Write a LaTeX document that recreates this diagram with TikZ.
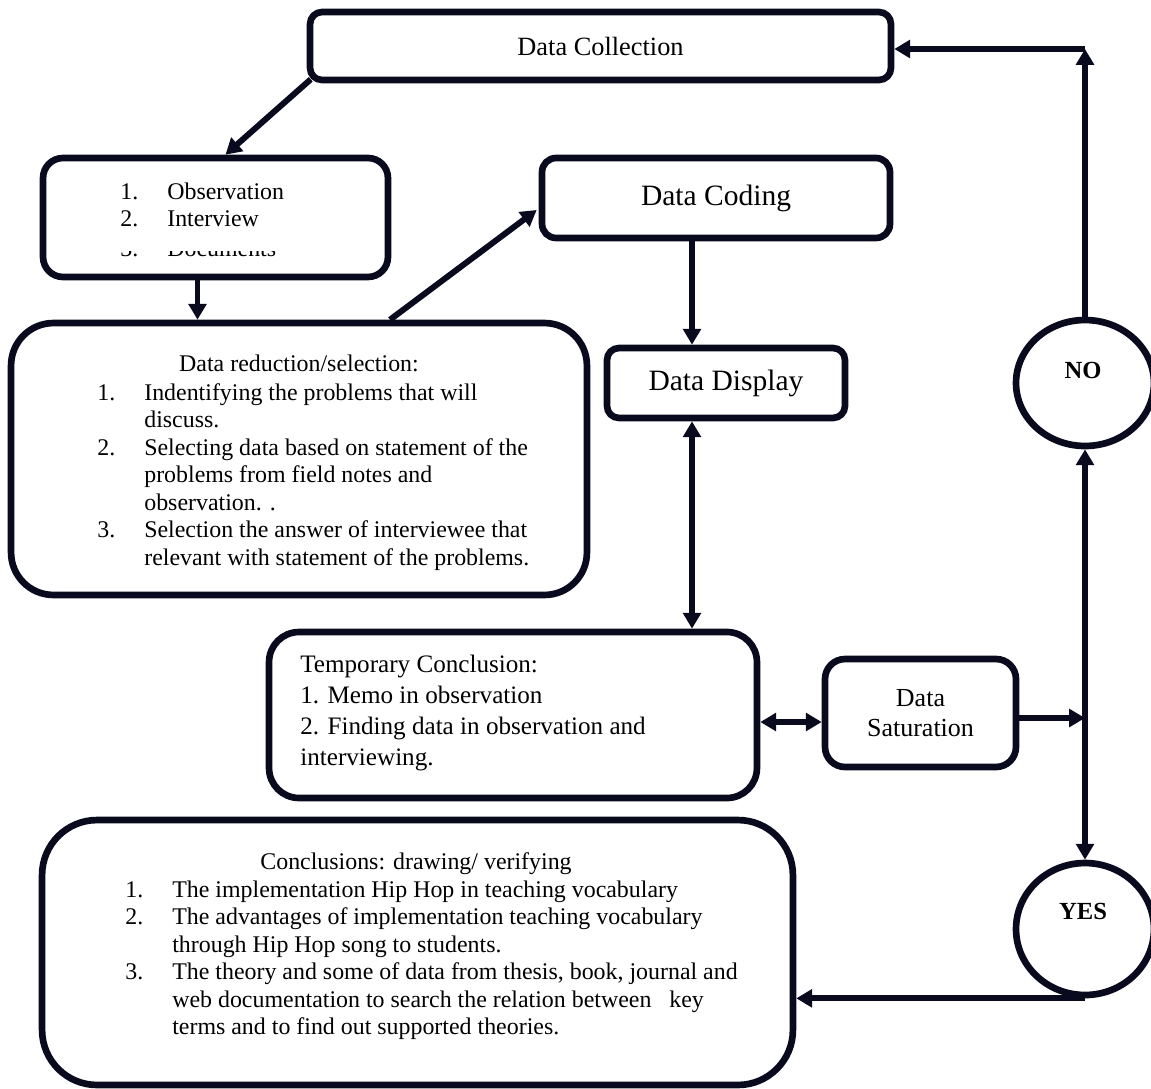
\documentclass[tikz,border=0pt]{standalone}
\usepackage{fontspec}
\setmainfont{Liberation Serif}
\usetikzlibrary{arrows.meta,calc,shapes.geometric}
\definecolor{ink}{HTML}{0A0A1E}
\newcommand{\lnum}[1]{\makebox[0.94cm][l]{#1}}
\newcommand{\lgap}{\hspace*{0.94cm}}

\begin{document}
\begin{tikzpicture}[x=0.02cm, y=-0.02cm, >={Triangle[length=9pt,width=10pt]}]
    \tikzstyle{box}=[draw=ink, line width=3.8pt, fill=white, inner sep=0pt, align=center]
    \tikzstyle{decision}=[ellipse, draw=ink, line width=3.8pt, fill=white, inner sep=0pt]
    \tikzstyle{flow}=[->, draw=ink, line width=3.4pt]
    \tikzstyle{twoway}=[<->, draw=ink, line width=3.4pt]
    \tikzstyle{body}=[inner sep=0pt, align=left, font=\fontsize{13.6}{15.6}\selectfont]
    \tikzstyle{cambria}=[inner sep=0pt, align=left, font=\fontsize{14.3}{17.6}\selectfont]

    \useasboundingbox (0,0) rectangle (1151,1088);

    % boxes
    \node[box, rounded corners=0.24cm, minimum width=11.62cm, minimum height=1.36cm,
          font=\fontsize{15}{18}\selectfont] (collect) at (600.5,46) {Data Collection};
    \node[box, rounded corners=0.4cm, minimum width=6.9cm, minimum height=2.38cm] (obs) at (215.5,217.5) {};
    \node[box, rounded corners=0.28cm, minimum width=6.96cm, minimum height=1.6cm,
          font=\fontsize{16.8}{20}\selectfont] (coding) at (716,198) {Data Coding};
    \node[box, rounded corners=0.85cm, minimum width=11.52cm, minimum height=5.44cm] (reduce) at (299,459) {};
    \node[box, rounded corners=0.24cm, minimum width=4.76cm, minimum height=1.4cm,
          font=\fontsize{16.8}{20}\selectfont] (display) at (726,383) {Data Display};
    \node[box, rounded corners=0.6cm, minimum width=9.76cm, minimum height=3.32cm] (temp) at (513,715) {};
    \node[box, rounded corners=0.4cm, minimum width=3.82cm, minimum height=2.16cm,
          font=\fontsize{14.8}{17.4}\selectfont] (satur) at (920.5,713) {Data\\Saturation};
    \node[box, rounded corners=1.1cm, minimum width=15.02cm, minimum height=5.3cm] (concl) at (417.5,952.5) {};

    % yes / no
    \node[decision, minimum width=2.76cm, minimum height=2.52cm] (no) at (1085,383) {};
    \node[decision, minimum width=2.76cm, minimum height=2.64cm] (yes) at (1085,929) {};
    \node[font=\bfseries\fontsize{14}{17}\selectfont] (notext) at (1083,370) {NO};
    \node[font=\bfseries\fontsize{14}{17}\selectfont] (yestext) at (1083,911) {YES};

    % texts in boxes (anchored on the baseline of the last line)
    \node[body, anchor=base west] (obslist) at (120,226.5) {\lnum{1.}Observation\\\lnum{2.}Interview};
    \begin{scope}
        \clip (100,251) rectangle (380,262);
        \node[body, anchor=base west] (obscut) at (120,256) {\lnum{3.}Documents};
    \end{scope}

    \node[body, anchor=base] (reducetitle) at (299,371) {Data reduction/selection:};
    \node[body, anchor=base west] (reducelist) at (97,565)
        {\lnum{1.}Indentifying the problems that will\\
         \lgap discuss.\\
         \lnum{2.}Selecting data based on statement of the\\
         \lgap problems from field notes and\\
         \lgap observation. .\\
         \lnum{3.}Selection the answer of interviewee that\\
         \lgap relevant with statement of the problems.};

    \node[cambria, anchor=base west] (templist) at (300,765)
        {Temporary Conclusion:\\
         1. Memo in observation\\
         2. Finding data in observation and\\
         interviewing.};

    \node[body, anchor=base] (concltitle) at (416,869) {Conclusions: drawing/ verifying};
    \node[body, anchor=base west] (concllist) at (125,1034.5)
        {\lnum{1.}The implementation Hip Hop in teaching vocabulary\\
         \lnum{2.}The advantages of implementation teaching vocabulary\\
         \lgap through Hip Hop song to students.\\
         \lnum{3.}The theory and some of data from thesis, book, journal and\\
         \lgap web documentation to search the relation between\ \ \ key\\
         \lgap terms and to find out supported theories.};

    % turning points
    \coordinate (junc) at (1085,718);
    \coordinate (topturn) at (1085,49);
    \coordinate (obsout) at ($(obs.south)+(-18,0)$);
    \coordinate (reduceout) at ($(reduce.north)+(91,0)$);
    \coordinate (codingout) at ($(coding.south)+(-24,0)$);
    \coordinate (displayout) at ($(display.south)+(-34,0)$);
    \coordinate (tempout) at ($(temp.east)+(0,7)$);
    \coordinate (saturout) at ($(satur.east)+(0,5)$);

    % edges
    \draw[flow] ($(collect.south west)+(4,-4)$) -- ($(obs.north)+(10,0)$);
    \draw[flow] (obsout) -- (obsout |- reduce.north);
    \draw[flow] (reduceout) -- ($(coding.west)+(-2,12)$);
    \draw[flow] (codingout) -- (codingout |- display.north);
    \draw[twoway] (displayout) -- (displayout |- temp.north);
    \draw[twoway] (tempout) -- (tempout -| satur.west);
    \draw[flow] (saturout) -- (junc);
    \draw[flow] (junc) -- (no.south);
    \draw[flow] (junc) -- (yes.north);
    \draw[flow] (no.north) -- (topturn);
    \draw[flow] (topturn) -- (topturn -| collect.east);
    \draw[flow] (yes.south) -- (yes.south -| concl.east);
\end{tikzpicture}
\end{document}
